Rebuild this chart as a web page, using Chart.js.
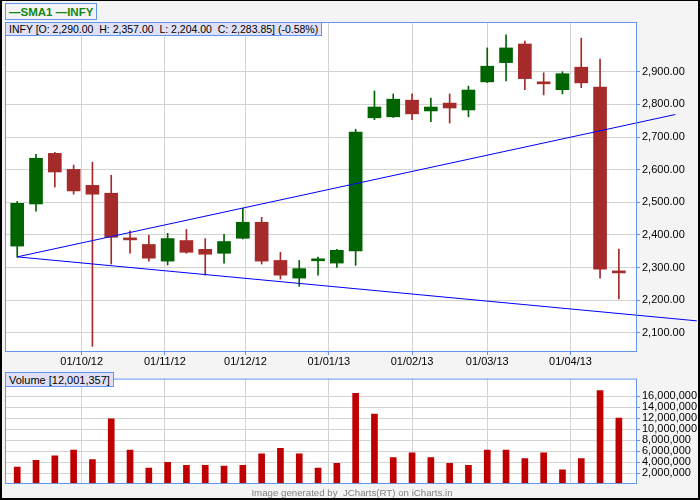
<!DOCTYPE html>
<html>
<head>
<meta charset="utf-8">
<script src="https://cdn.jsdelivr.net/npm/chart.js@4/dist/chart.umd.min.js"></script>
<style>
html,body{margin:0;padding:0;background:#f4f4f4;}
#wrap{position:relative;width:700px;height:500px;background:#f4f4f4;overflow:hidden;font-family:"Liberation Sans",Arial,sans-serif;}
canvas{position:absolute;left:0;}
#main{top:0;}
#vol{top:370px;}
.box{position:absolute;border:1px solid #6495ed;box-sizing:border-box;font-size:11px;line-height:12px;white-space:nowrap;color:#000;}
#legend{left:5px;top:3px;width:92px;height:17px;color:#118811;font-weight:bold;font-size:11.5px;padding:2px 0 0 3px;background:#f4f4f4;}
#info{left:5px;top:22px;height:14px;background:#dfe0f5;padding:0 3px 0 3px;font-size:10.5px;}
#vlabel{left:5px;top:372px;height:15px;background:#dfe0f5;padding:1px 3px 0 3px;}
#footer{position:absolute;left:0;width:704px;top:487px;text-align:center;font-size:9.7px;color:#808080;white-space:nowrap;}
#frame{position:absolute;left:0;top:0;width:700px;height:500px;box-sizing:border-box;border:2px solid #000;border-top-width:1px;pointer-events:none;}
</style>
</head>
<body>
<div id="wrap">
  <canvas id="main" width="700" height="370"></canvas>
  <canvas id="vol" width="700" height="130"></canvas>
  <div class="box" id="legend">—SMA1 —INFY</div>
  <div class="box" id="info">INFY [O: 2,290.00&nbsp; H: 2,357.00&nbsp; L: 2,204.00&nbsp; C: 2,283.85] (-0.58%)</div>
  <div class="box" id="vlabel">Volume [12,001,357]</div>
  <div id="footer">Image generated by&nbsp; JCharts(RT) on iCharts.in</div>
  <div id="frame"></div>
</div>
<script>
// ---- data ----
const dates = ['2012-09-07','2012-09-14','2012-09-21','2012-09-28','2012-10-05','2012-10-12','2012-10-19','2012-10-26',
  '2012-11-02','2012-11-09','2012-11-16','2012-11-23','2012-11-30','2012-12-07','2012-12-14','2012-12-21','2012-12-28',
  '2013-01-04','2013-01-11','2013-01-18','2013-01-25','2013-02-01','2013-02-08','2013-02-15','2013-02-22',
  '2013-03-01','2013-03-08','2013-03-15','2013-03-22','2013-03-29','2013-04-05','2013-04-12','2013-04-19'];
const open  = [2366,2495,2650,2601,2552,2528,2388,2371,2320,2383,2356,2344,2390,2439,2322,2268,2321,2314,2351,2759,2762,2813,2780,2804,2783,2869,2928,2985,2869,2845,2914,2853,2290];
const high  = [2503,2647,2653,2614,2623,2583,2413,2399,2405,2417,2389,2402,2482,2454,2347,2322,2332,2356,2724,2841,2832,2832,2819,2832,2856,2973,3013,2994,2897,2900,3003,2939,2357];
const low   = [2332,2473,2547,2525,2059,2311,2344,2320,2308,2344,2277,2314,2388,2311,2265,2243,2277,2301,2307,2753,2760,2753,2747,2743,2762,2867,2872,2845,2829,2832,2851,2268,2204];
const close = [2497,2635,2593,2535,2525,2393,2385,2329,2389,2347,2341,2380,2439,2320,2277,2297,2325,2353,2715,2792,2816,2771,2792,2789,2844,2917,2973,2879,2863,2894,2866,2295,2283.85];
const volume = [3080000,4290000,5150000,6180000,4460000,11860000,6180000,2910000,3940000,3420000,3420000,3250000,3420000,
  5490000,6520000,5490000,2910000,3770000,16500000,12720000,4800000,5660000,4800000,3770000,3420000,6180000,6180000,
  4630000,5660000,2560000,4630000,17000000,12001357];
const tickDates = ['2012-10-01','2012-11-01','2012-12-01','2013-01-01','2013-02-01','2013-03-01','2013-04-01'];
const tickLabels = ['01/10/12','01/11/12','01/12/12','01/01/13','01/02/13','01/03/13','01/04/13'];
const priceTicks = [2100,2200,2300,2400,2500,2600,2700,2800,2900];
const volumeTicks = [2000000,4000000,6000000,8000000,10000000,12000000,14000000,16000000];
// trend lines (start/end dates and values)
const trendUpperDates = ['2012-09-07','2013-05-10'];
const trendUpperVals  = [2333,2769];
const trendLowerDates = ['2012-09-07','2013-05-18'];
const trendLowerVals  = [2333,2137];

// ---- helpers ----
const base = Date.UTC(2012,8,7);
function dayOf(s){const p=s.split('-').map(Number);return (Date.UTC(p[0],p[1]-1,p[2])-base)/86400000;}
const xDays = dates.map(dayOf);
const tickDays = tickDates.map(dayOf);
const GREEN='#006400', RED='#a52a2a';
const colors = open.map((o,i)=> close[i]>=o ? GREEN : RED);
const bodies = xDays.map((x,i)=>({x:x, y:[open[i], close[i]]}));
const wicks = xDays.map((x,i)=>({x:x, y:[low[i], high[i]]}));
const upper = trendUpperDates.map((d,i)=>({x:dayOf(d), y:trendUpperVals[i]}));
const lower = trendLowerDates.map((d,i)=>({x:dayOf(d), y:trendLowerVals[i]}));
const vols = xDays.map((x,i)=>({x:x, y:volume[i]}));

const FONT = {family:'"Liberation Sans", Arial, sans-serif', size:11};
const XMIN = -4.55, XMAX = 230.38;

const areaPlugin = {
  id:'area',
  beforeDraw(chart){
    const a = chart.chartArea, c = chart.ctx;
    c.save(); c.fillStyle='#ffffff'; c.fillRect(a.left,a.top,a.right-a.left,a.bottom-a.top); c.restore();
  },
  afterDraw(chart){
    const a = chart.chartArea, c = chart.ctx;
    c.save(); c.strokeStyle='#6495ed'; c.lineWidth=1;
    c.strokeRect(a.left+0.5,a.top+0.5,a.right-a.left,a.bottom-a.top-1); c.restore();
  }
};

function xScale(showLabels){
  return {
    type:'linear', min:XMIN, max:XMAX, offset:false,
    afterBuildTicks: s => { s.ticks = tickDays.map(v=>({value:v})); },
    ticks:{display:showLabels, callback:(v,i)=>tickLabels[i], font:FONT, color:'#000', maxRotation:0, autoSkip:false, padding:0},
    grid:{offset:false, color:'#d3d3d3', lineWidth:1, drawTicks:showLabels, tickLength:3, tickColor:'#6495ed'},
    border:{display:false},
    afterFit: s => { s.height = showLabels ? 18 : 0; }
  };
}

new Chart(document.getElementById('main'), {
  type:'bar',
  data:{datasets:[
    {type:'line', data:upper, borderColor:'#0000ff', borderWidth:1, pointRadius:0, clip:false, order:0, tension:0},
    {type:'line', data:lower, borderColor:'#0000ff', borderWidth:1, pointRadius:0, clip:false, order:0, tension:0},
    {data:bodies, backgroundColor:colors, barThickness:13, minBarLength:2, grouped:false, borderWidth:0, order:1},
    {data:wicks, backgroundColor:colors, barThickness:1, grouped:false, borderWidth:0, order:2}
  ]},
  options:{
    responsive:false, animation:false, events:[],
    layout:{padding:{left:5, top:22, right:0, bottom:0}},
    plugins:{legend:{display:false}, tooltip:{enabled:false}},
    scales:{
      x: xScale(true),
      y:{position:'right', min:2041.6, max:3052.4,
        afterBuildTicks: s => { s.ticks = priceTicks.map(v=>({value:v})); },
        ticks:{font:FONT, color:'#000', padding:2, autoSkip:false,
          callback: v => v.toLocaleString('en-US',{minimumFractionDigits:2, maximumFractionDigits:2})},
        grid:{color:'#d3d3d3', lineWidth:1, tickLength:4, tickColor:'#6495ed'},
        border:{display:false},
        afterFit: s => { s.width = 64; }
      }
    }
  },
  plugins:[areaPlugin]
});

new Chart(document.getElementById('vol'), {
  type:'bar',
  data:{datasets:[
    {data:vols, backgroundColor:'#c00000', barThickness:6, borderWidth:0}
  ]},
  options:{
    responsive:false, animation:false, events:[],
    layout:{padding:{left:5, top:2, right:0, bottom:16}},
    plugins:{legend:{display:false}, tooltip:{enabled:false}},
    scales:{
      x: xScale(false),
      y:{position:'right', min:0, max:19200000,
        afterBuildTicks: s => { s.ticks = volumeTicks.map(v=>({value:v})); },
        ticks:{font:FONT, color:'#000', padding:2, autoSkip:false, callback: v => v.toLocaleString('en-US')},
        grid:{color:'#d3d3d3', lineWidth:1, tickLength:4, tickColor:'#6495ed'},
        border:{display:false},
        afterFit: s => { s.width = 64; }
      }
    }
  },
  plugins:[areaPlugin]
});
</script>
</body>
</html>
